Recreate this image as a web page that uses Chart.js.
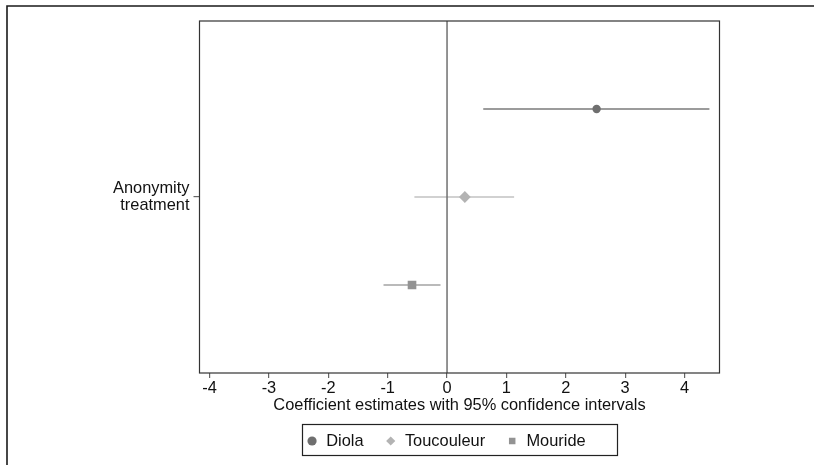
<!DOCTYPE html>
<html>
<head>
<meta charset="utf-8">
<script src="https://cdn.jsdelivr.net/npm/chart.js@4/dist/chart.umd.min.js"></script>
<style>
  html, body { margin: 0; padding: 0; background: #fff; }
  #wrap { width: 814px; height: 465px; }
</style>
</head>
<body>
<div id="wrap"><canvas id="coefPlot" width="814" height="465"></canvas></div>
<script>
// values
const groups = ["Diola", "Toucouleur", "Mouride"];
const estimates = [2.52, 0.30, -0.59];
const ciLow = [0.61, -0.55, -1.07];
const ciHigh = [4.42, 1.13, -0.11];
const rowPos = [1, 2, 3];
const xTickValues = [-4, -3, -2, -1, 0, 1, 2, 3, 4];
const yTickValue = 2;
const yTickLabel = ["Anonymity", "treatment"];
const xTitle = "Coefficient estimates with 95% confidence intervals";
const zeroLine = 0;

const markerColors = ["#6f6f6f", "#b3b3b3", "#939393"];
const ciColors = ["#7a7a7a", "#c2c2c2", "#a3a3a3"];
const markerStyles = ["circle", "rectRot", "rect"];
const markerRadius = [4.2, 5.9, 6.1];
// trailing spaces only widen the legend entries the way the original lays them out
const legendPad = ["  ", "  ", "      "];

const FONT = "'Liberation Sans', Arial, sans-serif";
const FS = 16.4;
Chart.defaults.font.family = FONT;

const pointSets = groups.map((g, i) => ({
    label: g,
    data: [{ x: estimates[i], y: rowPos[i] }],
    pointStyle: markerStyles[i],
    pointRadius: markerRadius[i],
    backgroundColor: markerColors[i],
    borderColor: markerColors[i],
    borderWidth: 0,
    pointBorderWidth: 0,
    isMarker: true
}));

const ciSets = groups.map((g, i) => ({
    label: g + " CI",
    data: [{ x: ciLow[i], y: rowPos[i] }, { x: ciHigh[i], y: rowPos[i] }],
    showLine: true,
    borderColor: ciColors[i],
    borderWidth: 1.6,
    pointRadius: 0,
    isMarker: false
}));

const framePlugin = {
    id: "frame",
    beforeDraw(chart) {
        const ctx = chart.ctx;
        ctx.save();
        ctx.fillStyle = "#fff";
        ctx.fillRect(0, 0, chart.width, chart.height);
        // outer graph region border (cropped on right/bottom)
        ctx.strokeStyle = "#1a1a1a";
        ctx.lineWidth = 1.6;
        ctx.beginPath();
        ctx.moveTo(7, chart.height);
        ctx.lineTo(7, 6);
        ctx.lineTo(chart.width, 6);
        ctx.stroke();
        ctx.restore();
    },
    afterDatasetsDraw(chart) {
        const ctx = chart.ctx;
        const a = chart.chartArea;
        const xs = chart.scales.x;
        ctx.save();
        const zx = xs.getPixelForValue(zeroLine);
        ctx.strokeStyle = "#707070";
        ctx.lineWidth = 1.5;
        ctx.beginPath();
        ctx.moveTo(zx, a.top);
        ctx.lineTo(zx, a.bottom);
        ctx.stroke();
        ctx.strokeStyle = "#333";
        ctx.lineWidth = 1.2;
        ctx.strokeRect(a.left, a.top, a.right - a.left, a.bottom - a.top);
        ctx.restore();
    },
    afterDraw(chart) {
        const hb = chart.legend.legendHitBoxes;
        if (!hb || !hb.length) return;
        const ctx = chart.ctx;
        const first = hb[0];
        const last = hb[hb.length - 1];
        const cy = first.top + first.height / 2;
        const left = first.left - 4;
        const right = last.left + last.width + 4;
        ctx.save();
        ctx.strokeStyle = "#222";
        ctx.lineWidth = 1.2;
        ctx.strokeRect(Math.round(left) + 0.5, Math.round(cy - 17) + 0.5,
            Math.round(right - left), 31);
        ctx.restore();
    }
};

new Chart("coefPlot", {
    type: "scatter",
    data: { datasets: [...pointSets, ...ciSets] },
    options: {
        responsive: false,
        animation: false,
        events: [],
        layout: { padding: { top: 21, right: 94.5, bottom: 5.8, left: 0 } },
        plugins: {
            tooltip: { enabled: false },
            legend: {
                position: "bottom",
                fullSize: false,
                labels: {
                    usePointStyle: true,
                    boxHeight: 6.5,
                    boxWidth: 12,
                    padding: 12,
                    color: "#111",
                    font: { size: FS },
                    filter: (item, data) => data.datasets[item.datasetIndex].isMarker,
                    generateLabels(chart) {
                        const items = Chart.defaults.plugins.legend.labels.generateLabels(chart);
                        items.forEach(item => {
                            const k = groups.indexOf(item.text);
                            if (k >= 0) item.text = item.text + legendPad[k];
                        });
                        return items;
                    }
                }
            }
        },
        scales: {
            x: {
                type: "linear",
                min: -4.17,
                max: 4.59,
                afterBuildTicks: scale => {
                    scale.ticks = xTickValues.map(v => ({ value: v }));
                },
                afterFit: scale => { scale.height = 47.8; },
                border: { display: false },
                grid: { drawOnChartArea: false, drawTicks: true, tickLength: 5, tickColor: "#666", lineWidth: 1.2 },
                ticks: { autoSkip: false, maxRotation: 0, padding: 1, color: "#111", font: { size: FS } },
                title: { display: true, text: xTitle, color: "#111", font: { size: FS }, padding: { top: 0, bottom: 5 } }
            },
            y: {
                type: "linear",
                reverse: true,
                min: 0,
                max: 4,
                afterBuildTicks: scale => {
                    scale.ticks = [{ value: yTickValue }];
                },
                afterFit: scale => { scale.width = 199.5; },
                border: { display: false },
                grid: { drawOnChartArea: false, drawTicks: true, tickLength: 6, tickColor: "#666", lineWidth: 1.2 },
                ticks: {
                    padding: 4,
                    color: "#111",
                    font: { size: FS, lineHeight: 0.98 },
                    callback: value => (value === yTickValue ? yTickLabel : "")
                }
            }
        }
    },
    plugins: [framePlugin]
});
</script>
</body>
</html>
